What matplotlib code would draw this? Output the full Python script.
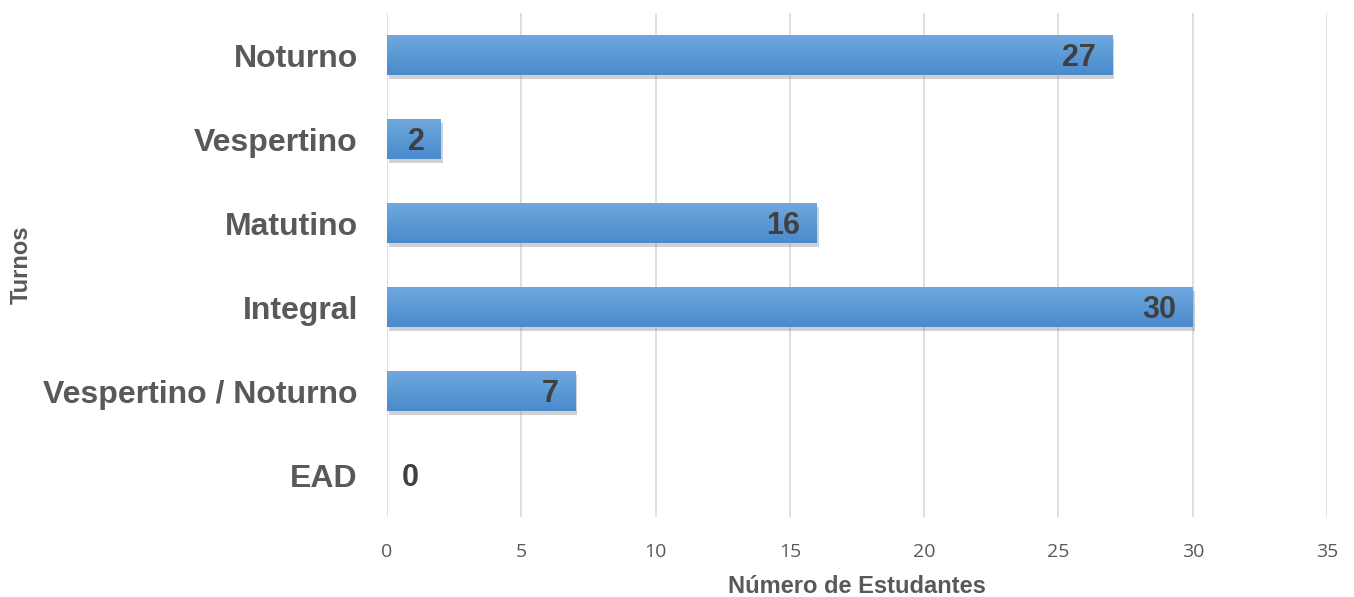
# horizontal bar chart: students per shift
import matplotlib
matplotlib.use('Agg')
import matplotlib.pyplot as plt
import matplotlib.patheffects as pe
import numpy as np

# data
turnos = ['Noturno', 'Vespertino', 'Matutino', 'Integral', 'Vespertino / Noturno', 'EAD']
estudantes = [27, 2, 16, 30, 7, 0]
xticks = [0, 5, 10, 15, 20, 25, 30, 35]

plt.rcParams['font.family'] = ['Liberation Sans', 'DejaVu Sans']

fig = plt.figure(figsize=(13.54, 5.97), dpi=100)
ax = fig.add_axes([0.2858, 0.134, 0.6943, 0.844])

y = np.arange(len(turnos))
bars = ax.barh(y, estudantes, height=0.48, color='#5b9bd5', zorder=3,
               path_effects=[pe.SimplePatchShadow(offset=(1.5, -3), shadow_rgbFace='#8c8c8c', alpha=0.4),
                             pe.Normal()])

# vertical gradient inside each bar
grad = np.linspace(0, 1, 64).reshape(-1, 1)
cmap = matplotlib.colors.LinearSegmentedColormap.from_list('bl', ['#6fa8de', '#4a8bcc'])
for b in bars:
    if b.get_width() <= 0:
        continue
    x0, y0 = b.get_x(), b.get_y()
    im = ax.imshow(grad, cmap=cmap, aspect='auto', zorder=4,
                   extent=[x0, x0 + b.get_width(), y0 + b.get_height(), y0], origin='upper')
    im.set_clip_path(b)

# value labels
for yi, v in zip(y, estudantes):
    if v == 0:
        ax.text(0.55, yi + 0.03, str(v), ha='left', va='center', fontsize=22,
                fontweight='bold', color='#404040', zorder=5)
    else:
        ax.text(v - 0.6, yi + 0.03, str(v), ha='right', va='center', fontsize=22,
                fontweight='bold', color='#404040', zorder=5)

ax.set_xlim(0, 35)
ax.set_ylim(len(turnos) - 0.5, -0.5)
ax.set_xticks(xticks)
ax.set_yticks(y)
ax.set_yticklabels(turnos, fontsize=23, fontweight='bold', color='#595959')
ax.tick_params(axis='x', labelsize=14, colors='#595959', length=0, pad=19)
ax.tick_params(axis='y', length=0, pad=21)
for lab in ax.get_xticklabels():
    lab.set_family(['Open Sans', 'DejaVu Sans'])

ax.grid(axis='x', color='#d9d9d9', linewidth=1.2, zorder=0)
for s in ax.spines.values():
    s.set_visible(False)

ax.set_xlabel('Número de Estudantes', fontsize=17, fontweight='bold', color='#595959', labelpad=10)
ax.set_ylabel('Turnos', fontsize=17, fontweight='bold', color='#595959')
ax.yaxis.set_label_coords(-0.377, 0.5)

fig.savefig('out.png', dpi=100)
